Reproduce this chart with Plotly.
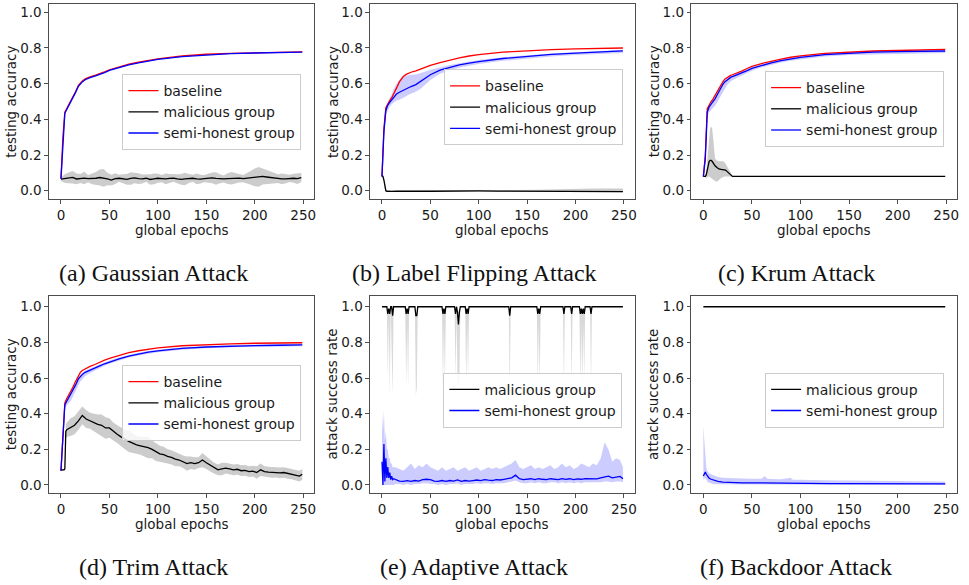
import plotly.graph_objects as go

# ---------------- data ----------------
EPOCHS = [0, 2, 4, 6, 8, 10, 12, 15, 18, 20, 22, 25, 28, 30, 35, 40, 45, 50,
          60, 70, 80, 90, 100, 125, 150, 175, 200, 225, 249]
X_TICKS = [0, 50, 100, 150, 200, 250]
Y_TICKS = [0.0, 0.2, 0.4, 0.6, 0.8, 1.0]
Y_TICK_LABELS = ["0.0", "0.2", "0.4", "0.6", "0.8", "1.0"]
CAPTIONS = ["(a) Gaussian Attack", "(b) Label Flipping Attack", "(c) Krum Attack",
            "(d) Trim Attack", "(e) Adaptive Attack", "(f) Backdoor Attack"]
Y_TITLES = ["testing accuracy", "testing accuracy", "testing accuracy",
            "testing accuracy", "attack success rate", "attack success rate"]
X_TITLE = "global epochs"
NAMES = ["baseline", "malicious group", "semi-honest group"]

# (a) Gaussian
A_BASE = [0.07, 0.30, 0.44, 0.46, 0.48, 0.50, 0.52, 0.555, 0.59, 0.605, 0.615, 0.627, 0.635, 0.638,
          0.646, 0.655, 0.666, 0.678, 0.695, 0.71, 0.72, 0.73, 0.739, 0.755, 0.765, 0.77, 0.774, 0.776, 0.778]
A_SEMI = [0.065, 0.29, 0.435, 0.455, 0.475, 0.495, 0.515, 0.55, 0.585, 0.60, 0.61, 0.622, 0.63, 0.634,
          0.642, 0.651, 0.662, 0.674, 0.691, 0.706, 0.717, 0.727, 0.736, 0.752, 0.762, 0.768, 0.772, 0.775, 0.777]
A_MAL_EPOCHS = list(range(0, 249, 4))
A_MAL = [0.065, 0.068, 0.072, 0.075, 0.066, 0.069, 0.071, 0.068, 0.067, 0.070,
         0.074, 0.072, 0.066, 0.060, 0.068, 0.070, 0.067, 0.064, 0.069, 0.072,
         0.068, 0.066, 0.070, 0.063, 0.067, 0.070, 0.068, 0.066, 0.069, 0.071,
         0.067, 0.064, 0.066, 0.069, 0.070, 0.067, 0.065, 0.068, 0.070, 0.072,
         0.069, 0.067, 0.066, 0.068, 0.070, 0.069, 0.071, 0.068, 0.070, 0.073,
         0.075, 0.078, 0.080, 0.077, 0.074, 0.071, 0.068, 0.066, 0.067, 0.069,
         0.070, 0.068, 0.074]
A_MAL_SPREAD = [0.01, 0.025, 0.03, 0.035, 0.03, 0.025, 0.035, 0.02, 0.03, 0.035,
                0.045, 0.05, 0.035, 0.03, 0.03, 0.02, 0.025, 0.03, 0.035, 0.03,
                0.03, 0.025, 0.02, 0.03, 0.03, 0.025, 0.02, 0.03, 0.025, 0.02,
                0.025, 0.03, 0.035, 0.025, 0.02, 0.03, 0.025, 0.02, 0.025, 0.03,
                0.035, 0.025, 0.02, 0.03, 0.035, 0.03, 0.025, 0.02, 0.03, 0.04,
                0.05, 0.055, 0.045, 0.04, 0.035, 0.03, 0.025, 0.03, 0.025, 0.02,
                0.025, 0.03, 0.025]

# (b) Label flipping
B_BASE = [0.08, 0.35, 0.465, 0.49, 0.505, 0.52, 0.54, 0.575, 0.61, 0.628, 0.64, 0.652, 0.66, 0.664,
          0.672, 0.682, 0.693, 0.703, 0.718, 0.732, 0.744, 0.755, 0.763, 0.777, 0.786, 0.791, 0.795, 0.798, 0.80]
B_SEMI = [0.08, 0.33, 0.45, 0.48, 0.495, 0.51, 0.525, 0.542, 0.552, 0.558, 0.563, 0.572, 0.58, 0.584,
          0.595, 0.612, 0.632, 0.65, 0.676, 0.692, 0.705, 0.715, 0.724, 0.741, 0.754, 0.764, 0.771, 0.778, 0.784]
B_SEMI_HI = [0.08, 0.36, 0.47, 0.50, 0.52, 0.54, 0.57, 0.60, 0.625, 0.635, 0.64, 0.645, 0.648, 0.65,
             0.652, 0.658, 0.668, 0.678, 0.692, 0.705, 0.715, 0.725, 0.733, 0.748, 0.76, 0.769, 0.776, 0.782, 0.79]
B_SEMI_LO = [0.08, 0.30, 0.42, 0.45, 0.47, 0.485, 0.495, 0.505, 0.51, 0.515, 0.52, 0.53, 0.54, 0.545,
             0.555, 0.572, 0.595, 0.62, 0.655, 0.675, 0.69, 0.702, 0.71, 0.728, 0.742, 0.752, 0.76, 0.767, 0.772]
B_MAL_EPOCHS = [0, 1, 2, 3, 4, 5, 6, 8, 10, 15, 20, 25, 30, 40, 50, 60, 70, 80, 90, 100,
                120, 140, 160, 180, 200, 220, 240, 249]
B_MAL = [0.085, 0.08, 0.06, 0.02, 0.0, -0.003, -0.004, -0.004, -0.004, -0.003,
         -0.002, -0.001, -0.001, -0.002, -0.003, -0.002, -0.001, 0.0, 0.0, -0.001,
         -0.002, -0.003, -0.004, -0.004, -0.004, -0.004, -0.005, -0.005]
B_MAL_HI = [0.085, 0.082, 0.065, 0.03, 0.004, 0.0, 0.0, 0.0, 0.0, 0.001,
            0.002, 0.003, 0.003, 0.002, 0.001, 0.002, 0.003, 0.004, 0.004, 0.003,
            0.003, 0.004, 0.005, 0.008, 0.01, 0.012, 0.012, 0.012]
B_MAL_LO = [0.085, 0.078, 0.055, 0.01, -0.004, -0.006, -0.007, -0.007, -0.007, -0.006,
            -0.005, -0.004, -0.004, -0.005, -0.006, -0.005, -0.004, -0.003, -0.003, -0.004,
            -0.005, -0.006, -0.007, -0.008, -0.008, -0.008, -0.009, -0.009]

# (c) Krum
C_BASE = [0.08, 0.2, 0.46, 0.485, 0.50, 0.515, 0.535, 0.565, 0.595, 0.61, 0.625, 0.638, 0.646, 0.65,
          0.66, 0.672, 0.685, 0.697, 0.713, 0.727, 0.738, 0.748, 0.756, 0.77, 0.778, 0.783, 0.786, 0.789, 0.792]
C_SEMI = [0.08, 0.18, 0.44, 0.47, 0.485, 0.50, 0.515, 0.545, 0.578, 0.595, 0.61, 0.625, 0.635, 0.64,
          0.65, 0.661, 0.673, 0.686, 0.703, 0.717, 0.729, 0.739, 0.747, 0.763, 0.772, 0.777, 0.78, 0.782, 0.783]
C_SEMI_HI = [0.08, 0.2, 0.455, 0.48, 0.495, 0.51, 0.525, 0.555, 0.588, 0.605, 0.62, 0.633, 0.642, 0.647,
             0.657, 0.668, 0.68, 0.693, 0.71, 0.724, 0.736, 0.746, 0.754, 0.77, 0.779, 0.784, 0.787, 0.789, 0.79]
C_SEMI_LO = [0.08, 0.15, 0.41, 0.44, 0.455, 0.465, 0.475, 0.50, 0.53, 0.55, 0.57, 0.595, 0.612, 0.62,
             0.635, 0.648, 0.66, 0.673, 0.692, 0.706, 0.718, 0.728, 0.736, 0.752, 0.76, 0.765, 0.768, 0.77, 0.772]
C_MAL_EPOCHS = [0, 2, 3, 4, 5, 6, 7, 8, 9, 10, 11, 12, 14, 16, 18, 20, 22, 23, 24, 26, 28, 30,
                40, 60, 100, 150, 200, 249]
C_MAL = [0.08, 0.08, 0.09, 0.12, 0.15, 0.165, 0.17, 0.17, 0.165, 0.155, 0.145, 0.14, 0.13, 0.122,
         0.12, 0.118, 0.12, 0.115, 0.11, 0.10, 0.088, 0.08, 0.08, 0.08, 0.08, 0.08, 0.08, 0.08]
C_MAL_HI = [0.08, 0.085, 0.11, 0.18, 0.26, 0.32, 0.35, 0.36, 0.35, 0.30, 0.22, 0.18, 0.17, 0.165,
            0.165, 0.165, 0.16, 0.15, 0.14, 0.12, 0.095, 0.082, 0.08, 0.08, 0.08, 0.08, 0.08, 0.08]
C_MAL_LO = [0.08, 0.075, 0.07, 0.075, 0.08, 0.08, 0.08, 0.075, 0.07, 0.065, 0.06, 0.055, 0.05, 0.06,
            0.07, 0.075, 0.08, 0.08, 0.08, 0.08, 0.08, 0.078, 0.08, 0.08, 0.08, 0.08, 0.08, 0.08]

# (d) Trim
D_BASE = [0.08, 0.28, 0.46, 0.485, 0.505, 0.52, 0.545, 0.58, 0.615, 0.632, 0.642, 0.652, 0.66, 0.665,
          0.676, 0.69, 0.70, 0.71, 0.727, 0.742, 0.753, 0.762, 0.769, 0.781, 0.788, 0.792, 0.795, 0.797, 0.798]
D_SEMI = [0.08, 0.26, 0.45, 0.47, 0.49, 0.505, 0.525, 0.56, 0.595, 0.61, 0.62, 0.632, 0.64, 0.645,
          0.656, 0.668, 0.68, 0.69, 0.708, 0.723, 0.735, 0.745, 0.752, 0.766, 0.774, 0.779, 0.782, 0.784, 0.786]
D_SEMI_HI = [0.08, 0.28, 0.46, 0.48, 0.50, 0.515, 0.535, 0.57, 0.605, 0.62, 0.63, 0.642, 0.65, 0.655,
             0.665, 0.677, 0.689, 0.699, 0.716, 0.731, 0.742, 0.752, 0.759, 0.772, 0.78, 0.785, 0.788, 0.79, 0.792]
D_SEMI_LO = [0.08, 0.24, 0.43, 0.445, 0.46, 0.47, 0.49, 0.525, 0.56, 0.58, 0.595, 0.612, 0.622, 0.628,
             0.642, 0.656, 0.669, 0.68, 0.699, 0.715, 0.727, 0.737, 0.745, 0.759, 0.767, 0.772, 0.775, 0.777, 0.778]
D_MAL_EPOCHS = [0, 3, 4, 5] + list(range(6, 247, 4)) + [249]
D_MAL = [0.085, 0.085, 0.09, 0.30,
         0.31, 0.325, 0.335, 0.36, 0.39, 0.37, 0.36, 0.35, 0.34, 0.335, 0.32,
         0.32, 0.30, 0.285, 0.27, 0.255, 0.245, 0.235, 0.225, 0.22, 0.215, 0.21,
         0.2, 0.185, 0.175, 0.17, 0.16, 0.155, 0.145, 0.14, 0.13, 0.12, 0.125,
         0.12, 0.125, 0.14, 0.125, 0.11, 0.095, 0.085, 0.09, 0.095, 0.09, 0.085,
         0.088, 0.08, 0.082, 0.075, 0.078, 0.07, 0.085, 0.075, 0.072, 0.07, 0.072,
         0.068, 0.07, 0.065, 0.062, 0.058, 0.05,
         0.06]
D_MAL_SPREAD = [0.005, 0.005, 0.01, 0.04,
                0.04, 0.05, 0.05, 0.05, 0.05, 0.05, 0.045, 0.05, 0.055, 0.06, 0.06,
                0.055, 0.05, 0.05, 0.05, 0.055, 0.06, 0.055, 0.05, 0.05, 0.055, 0.06,
                0.05, 0.05, 0.045, 0.045, 0.04, 0.04, 0.04, 0.035, 0.035, 0.04, 0.035,
                0.035, 0.03, 0.04, 0.035, 0.035, 0.03, 0.03, 0.035, 0.03, 0.03, 0.03,
                0.03, 0.03, 0.03, 0.03, 0.03, 0.035, 0.035, 0.03, 0.03, 0.03, 0.03,
                0.03, 0.03, 0.03, 0.03, 0.03, 0.03,
                0.03]

# (e) Adaptive
E_MAL_EPOCHS = [0, 5, 6, 7, 8, 9, 10, 11, 12, 24, 25, 26, 27, 28, 34, 35, 36, 37,
                62, 63, 64, 65, 66, 75, 76, 77, 78, 79, 80, 81, 86, 87, 88, 89, 90,
                131, 132, 133, 160, 161, 162, 163, 164, 187, 188, 189, 195, 196, 197,
                204, 205, 206, 207, 208, 209, 210, 215, 216, 217, 249]
E_MAL = [1, 1, 0.96, 0.99, 0.96, 1, 1, 0.95, 1,
         1, 0.96, 0.99, 0.96, 1,
         1, 0.95, 0.95, 1,
         1, 0.96, 0.99, 0.96, 1,
         1, 0.96, 1, 0.97, 0.9, 0.97, 1,
         1, 0.96, 0.99, 0.96, 1,
         1, 0.95, 1,
         1, 0.96, 0.99, 0.96, 1,
         1, 0.96, 1,
         1, 0.96, 1,
         1, 0.96, 0.99, 0.96, 0.99, 0.96, 1,
         1, 0.96, 1,
         1]
E_MAL_LO = [1, 1, 0.6, 0.95, 0.5, 1, 0.85, 0.5, 1,
            1, 0.55, 0.9, 0.55, 1,
            1, 0.5, 0.55, 1,
            1, 0.55, 0.9, 0.55, 1,
            1, 0.6, 0.95, 0.6, 0.55, 0.6, 1,
            1, 0.55, 0.9, 0.6, 1,
            1, 0.5, 1,
            1, 0.55, 0.9, 0.55, 1,
            1, 0.55, 1,
            1, 0.55, 1,
            1, 0.55, 0.9, 0.55, 0.9, 0.6, 1,
            1, 0.55, 1,
            1]
E_SEMI_EPOCHS = [0, 1, 2, 3, 4, 5, 6, 7, 8, 9, 10, 11, 12] + list(range(14, 247, 4)) + [249]
E_SEMI = [0.13, 0.0, 0.23, 0.02, 0.15, 0.04, 0.10, 0.04, 0.07, 0.03, 0.05, 0.03, 0.035,
          0.03, 0.022, 0.02, 0.024, 0.02, 0.025, 0.022, 0.03, 0.032, 0.03,
          0.022, 0.02, 0.025, 0.02, 0.025, 0.022, 0.028, 0.02, 0.025, 0.022,
          0.025, 0.028, 0.024, 0.03, 0.027, 0.025, 0.03, 0.028, 0.032, 0.035,
          0.04, 0.055, 0.035, 0.03, 0.032, 0.035, 0.03, 0.035, 0.032, 0.03,
          0.035, 0.033, 0.03, 0.036, 0.032, 0.035, 0.03, 0.034, 0.032, 0.036,
          0.035, 0.038, 0.034, 0.04, 0.045, 0.05, 0.04, 0.045, 0.048,
          0.035]
E_SEMI_HI = [0.4, 0.3, 0.42, 0.25, 0.3, 0.2, 0.2, 0.15, 0.15, 0.12, 0.12, 0.1, 0.1,
             0.1, 0.09, 0.08, 0.1, 0.12, 0.09, 0.11, 0.1, 0.12, 0.1,
             0.09, 0.08, 0.1, 0.08, 0.09, 0.1, 0.08, 0.09, 0.1, 0.08,
             0.09, 0.1, 0.08, 0.09, 0.1, 0.09, 0.1, 0.09, 0.1, 0.11,
             0.12, 0.14, 0.1, 0.09, 0.1, 0.11, 0.09, 0.1, 0.09, 0.1,
             0.11, 0.09, 0.1, 0.12, 0.1, 0.11, 0.09, 0.1, 0.12, 0.11,
             0.1, 0.12, 0.11, 0.15, 0.24, 0.2, 0.13, 0.15, 0.14,
             0.1]
E_SEMI_LO = [0.0, 0.0, 0.0, 0.0, 0.0, 0.0, 0.0, 0.0, 0.0, 0.0, 0.0, 0.0, 0.0,
             0.005, 0.005, 0.0, 0.005, 0.0, 0.005, 0.005, 0.01, 0.01, 0.005,
             0.005, 0.0, 0.005, 0.0, 0.005, 0.005, 0.01, 0.0, 0.005, 0.005,
             0.005, 0.01, 0.005, 0.01, 0.01, 0.005, 0.01, 0.01, 0.01, 0.015,
             0.02, 0.025, 0.015, 0.01, 0.01, 0.015, 0.01, 0.015, 0.01, 0.01,
             0.015, 0.015, 0.01, 0.015, 0.01, 0.015, 0.01, 0.015, 0.01, 0.015,
             0.015, 0.015, 0.015, 0.015, 0.02, 0.02, 0.015, 0.02, 0.02,
             0.015]

# (f) Backdoor
F_MAL_EPOCHS = [0, 249]
F_MAL = [1.0, 1.0]
F_SEMI_EPOCHS = [0, 1, 2, 3, 4, 5, 6, 8, 10, 12, 15, 20, 25, 30, 40, 50, 60, 63, 66, 70,
                 80, 90, 92, 100, 110, 120, 130, 140, 150, 160, 170, 180, 190, 200, 210,
                 220, 230, 240, 249]
F_SEMI = [0.05, 0.06, 0.072, 0.06, 0.05, 0.042, 0.038, 0.032, 0.028, 0.025,
          0.02, 0.016, 0.014, 0.013, 0.012, 0.012, 0.011, 0.012, 0.011, 0.011,
          0.01, 0.011, 0.01, 0.01, 0.009, 0.009, 0.008, 0.008, 0.008, 0.007,
          0.007, 0.007, 0.007, 0.007, 0.007, 0.006, 0.006, 0.006, 0.006]
F_SEMI_HI = [0.33, 0.25, 0.14, 0.1, 0.08, 0.07, 0.065, 0.06, 0.055, 0.05,
             0.045, 0.04, 0.04, 0.038, 0.037, 0.035, 0.035, 0.05, 0.035, 0.033,
             0.032, 0.04, 0.03, 0.03, 0.028, 0.027, 0.026, 0.025, 0.025, 0.024,
             0.023, 0.023, 0.022, 0.022, 0.022, 0.021, 0.02, 0.02, 0.02]
F_SEMI_LO = [0.03, 0.035, 0.04, 0.03, 0.02, 0.015, 0.01, 0.008, 0.005, 0.004,
             0.003, 0.002, 0.002, 0.002, 0.001, 0.001, 0.001, 0.001, 0.001, 0.001,
             0.0, 0.0, 0.0, 0.0, 0.0, 0.0, 0.0, 0.0, 0.0, 0.0,
             0.0, 0.0, 0.0, 0.0, 0.0, 0.0, 0.0, 0.0, 0.0]

# ---------------- styling ----------------
RED = "#ff0000"
BLACK = "#000000"
BLUE = "#0000ff"
GRAY_BAND = "rgba(128,128,128,0.40)"
BLUE_BAND = "rgba(0,0,255,0.20)"
FONT = "DejaVu Sans"
SERIF = "Liberation Serif"
TXT = "#1a1a1a"

COL_DOM = [(49 / 969, 315 / 969), (370.7 / 969, 636.3 / 969), (692.7 / 969, 959.3 / 969)]
ROW_DOM = [(1 - 199.3 / 585, 1 - 4 / 585), (1 - 493 / 585, 1 - 295.5 / 585)]
Y_RANGE = [(-0.048, 1.0465), (-0.045, 1.063)]
X_RANGE = (-12.45, 261.45)

LEGEND_POS = [(122.7, 74), (445, 69.3), (766.7, 71), (122.7, 365), (444.3, 372.7), (766.7, 372.7)]
CAPTION_POS = [(153.5, 273), (475.5, 273), (798, 273), (154, 566.5), (475, 566.5), (798, 566.5)]
YTITLE_X = [11, 333, 655]
XTITLE_Y = [230.5, 523.5]

fig = go.Figure()


def spread_bounds(vals, spread, sign):
    return [v + sign * s for v, s in zip(vals, spread)]


def add_band(i, xs, hi, lo, color):
    ax = "" if i == 0 else str(i + 1)
    xs = list(xs)
    fig.add_trace(go.Scatter(x=xs + xs[::-1], y=list(hi) + list(lo)[::-1], mode="lines",
                             fill="toself", fillcolor=color, line=dict(width=0),
                             hoverinfo="skip", showlegend=False,
                             xaxis="x" + ax, yaxis="y" + ax))


def add_line(i, xs, ys, color, name):
    ax = "" if i == 0 else str(i + 1)
    leg = "legend" if i == 0 else "legend" + str(i + 1)
    fig.add_trace(go.Scatter(x=list(xs), y=list(ys), mode="lines", name=name,
                             line=dict(color=color, width=1.3), legend=leg,
                             xaxis="x" + ax, yaxis="y" + ax))


# (a)
add_band(0, A_MAL_EPOCHS, spread_bounds(A_MAL, A_MAL_SPREAD, 1), spread_bounds(A_MAL, A_MAL_SPREAD, -1), GRAY_BAND)
add_line(0, EPOCHS, A_BASE, RED, NAMES[0])
add_line(0, A_MAL_EPOCHS, A_MAL, BLACK, NAMES[1])
add_line(0, EPOCHS, A_SEMI, BLUE, NAMES[2])
# (b)
add_band(1, B_MAL_EPOCHS, B_MAL_HI, B_MAL_LO, GRAY_BAND)
add_band(1, EPOCHS, B_SEMI_HI, B_SEMI_LO, BLUE_BAND)
add_line(1, EPOCHS, B_BASE, RED, NAMES[0])
add_line(1, B_MAL_EPOCHS, B_MAL, BLACK, NAMES[1])
add_line(1, EPOCHS, B_SEMI, BLUE, NAMES[2])
# (c)
add_band(2, C_MAL_EPOCHS, C_MAL_HI, C_MAL_LO, GRAY_BAND)
add_band(2, EPOCHS, C_SEMI_HI, C_SEMI_LO, BLUE_BAND)
add_line(2, EPOCHS, C_BASE, RED, NAMES[0])
add_line(2, C_MAL_EPOCHS, C_MAL, BLACK, NAMES[1])
add_line(2, EPOCHS, C_SEMI, BLUE, NAMES[2])
# (d)
add_band(3, D_MAL_EPOCHS, spread_bounds(D_MAL, D_MAL_SPREAD, 1), spread_bounds(D_MAL, D_MAL_SPREAD, -1), GRAY_BAND)
add_band(3, EPOCHS, D_SEMI_HI, D_SEMI_LO, BLUE_BAND)
add_line(3, EPOCHS, D_BASE, RED, NAMES[0])
add_line(3, D_MAL_EPOCHS, D_MAL, BLACK, NAMES[1])
add_line(3, EPOCHS, D_SEMI, BLUE, NAMES[2])
# (e)
add_band(4, E_MAL_EPOCHS, E_MAL, E_MAL_LO, "rgba(128,128,128,0.30)")
add_band(4, E_SEMI_EPOCHS, E_SEMI_HI, E_SEMI_LO, BLUE_BAND)
add_line(4, E_MAL_EPOCHS, E_MAL, BLACK, NAMES[1])
add_line(4, E_SEMI_EPOCHS, E_SEMI, BLUE, NAMES[2])
# (f)
add_band(5, F_SEMI_EPOCHS, F_SEMI_HI, F_SEMI_LO, BLUE_BAND)
add_line(5, F_MAL_EPOCHS, F_MAL, BLACK, NAMES[1])
add_line(5, F_SEMI_EPOCHS, F_SEMI, BLUE, NAMES[2])

layout = dict(
    width=969, height=585, margin=dict(l=0, r=0, t=0, b=0),
    paper_bgcolor="white", plot_bgcolor="white",
    font=dict(family=FONT, size=13.5, color=TXT),
    annotations=[],
)
axis_common = dict(showline=True, mirror=True, linecolor="#4d4d4d", linewidth=1,
                   ticks="outside", ticklen=3.5, tickwidth=1, tickcolor="#4d4d4d",
                   showgrid=False, zeroline=False,
                   tickfont=dict(family=FONT, size=13.5, color=TXT))
for i in range(6):
    r, c = divmod(i, 3)
    ax = "" if i == 0 else str(i + 1)
    layout["xaxis" + ax] = dict(axis_common, domain=list(COL_DOM[c]), range=list(X_RANGE),
                                tickvals=X_TICKS, anchor="y" + ax)
    layout["yaxis" + ax] = dict(axis_common, domain=list(ROW_DOM[r]), range=list(Y_RANGE[r]),
                                tickvals=Y_TICKS, ticktext=Y_TICK_LABELS, anchor="x" + ax)
    lx, ly = LEGEND_POS[i]
    layout["legend" if i == 0 else "legend" + str(i + 1)] = dict(
        x=lx / 969, y=1 - ly / 585, xanchor="left", yanchor="top",
        bgcolor="rgba(255,255,255,0.8)", bordercolor="#cccccc", borderwidth=1,
        font=dict(family=FONT, size=14, color=TXT))
    cx, cy = CAPTION_POS[i]
    layout["annotations"].append(dict(
        x=cx / 969, y=1 - cy / 585, xref="paper", yref="paper", text=CAPTIONS[i],
        showarrow=False, xanchor="center", yanchor="middle",
        font=dict(family=SERIF, size=24, color="#111111")))
    ymid = (ROW_DOM[r][0] + ROW_DOM[r][1]) / 2
    layout["annotations"].append(dict(
        x=YTITLE_X[c] / 969, y=ymid, xref="paper", yref="paper", text=Y_TITLES[i],
        textangle=-90, showarrow=False, xanchor="center", yanchor="middle",
        font=dict(family=FONT, size=13.5, color=TXT)))
    xmid = (COL_DOM[c][0] + COL_DOM[c][1]) / 2
    layout["annotations"].append(dict(
        x=xmid, y=1 - XTITLE_Y[r] / 585, xref="paper", yref="paper", text=X_TITLE,
        showarrow=False, xanchor="center", yanchor="middle",
        font=dict(family=FONT, size=13.5, color=TXT)))

fig.update_layout(**layout)
fig.write_html("out.html")
